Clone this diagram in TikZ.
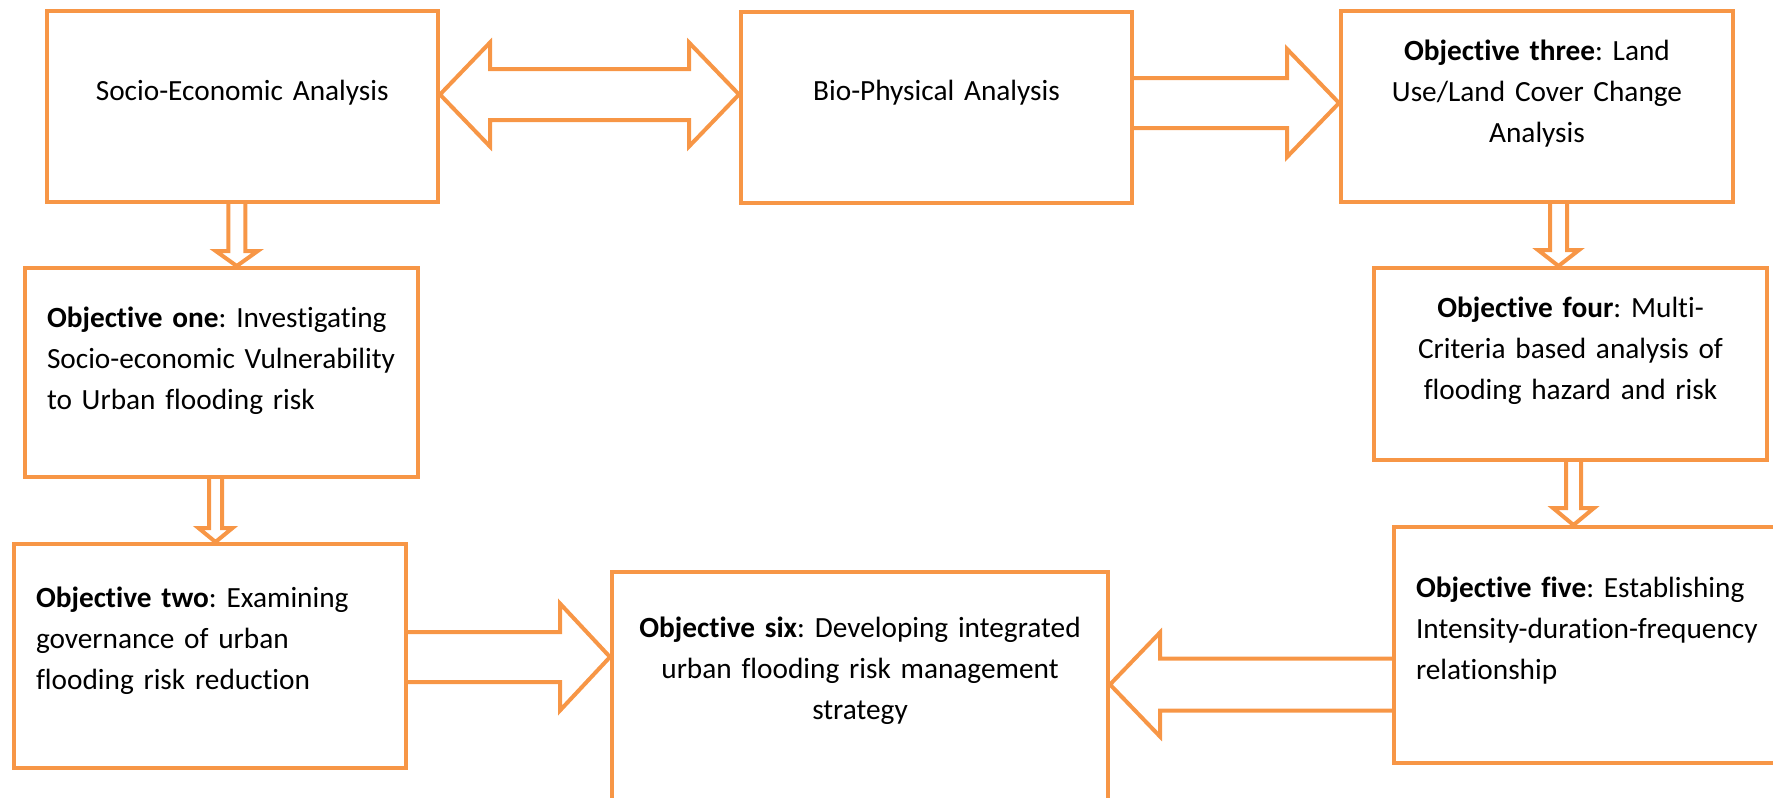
\documentclass[tikz,border=0pt]{standalone}
\usepackage{fontspec}
\setmainfont{Carlito}[Ligatures=NoCommon]
\usetikzlibrary{calc}

\definecolor{boxorange}{HTML}{F79646}
\frenchspacing

% hollow block arrow: start, tip, shaft half width, head half width, head length
\newcommand{\blockarrow}[5]{%
	\coordinate (headbase) at ($(#2)!#5!(#1)$);
	\draw[arrowline] ($(#1)!#3!90:(#2)$) -- ($(headbase)!#3!90:(#2)$) -- ($(headbase)!#4!90:(#2)$) -- (#2)
		-- ($(headbase)!#4!-90:(#2)$) -- ($(headbase)!#3!-90:(#2)$) -- ($(#1)!#3!-90:(#2)$);
}

% hollow block arrow with a head at both ends
\newcommand{\doubleblockarrow}[5]{%
	\coordinate (headbaseA) at ($(#1)!#5!(#2)$);
	\coordinate (headbaseB) at ($(#2)!#5!(#1)$);
	\draw[arrowline] (#1) -- ($(headbaseA)!#4!90:(#2)$) -- ($(headbaseA)!#3!90:(#2)$) -- ($(headbaseB)!#3!90:(#2)$)
		-- ($(headbaseB)!#4!90:(#2)$) -- (#2) -- ($(headbaseB)!#4!-90:(#2)$) -- ($(headbaseB)!#3!-90:(#2)$)
		-- ($(headbaseA)!#3!-90:(#2)$) -- ($(headbaseA)!#4!-90:(#2)$) -- cycle;
}

\begin{document}
\begin{tikzpicture}[x=1pt,y=-1pt,
	box/.style={draw=boxorange, line width=4pt, anchor=north west, inner xsep=22pt, inner ysep=0pt,
		font={\fontsize{29.3}{41}\selectfont\frenchspacing}},
	arrowline/.style={draw=boxorange, line width=4pt, line join=miter}]
	
	\useasboundingbox (0,0) rectangle (1773,798);
	\clip (0,0) rectangle (1773,798);
	
	% Draw the top row
	\node[box, align=center, text width=347.5pt, text height=89pt, text depth=102pt] (se) at (44.5,9) {Socio-Economic Analysis};
	\node[box, align=center, text width=347pt, text height=88pt, text depth=103pt] (bp) at (739,10) {Bio-Physical Analysis};
	\node[box, align=center, text width=348pt, text height=49pt, text depth=142pt] (o3) at (1339,9) {\textbf{Objective three}: Land\\Use/Land Cover Change\\Analysis};
	
	% Draw the middle row
	\node[box, align=left, text width=349pt, text height=59pt, text depth=150pt] (o1) at (23,266) {\textbf{Objective one}: Investigating\\Socio-economic Vulnerability\\to Urban flooding risk};
	\node[box, align=center, text width=349pt, text height=49pt, text depth=142.5pt] (o4) at (1372,266) {\textbf{Objective four}: Multi-\\Criteria based analysis of\\flooding hazard and risk};
	
	% Draw the bottom row
	\node[box, align=left, text width=348pt, text height=63pt, text depth=161pt] (o2) at (12,542) {\textbf{Objective two}: Examining\\governance of urban\\flooding risk reduction};
	\node[box, align=center, text width=452pt, text height=65.5pt, text depth=174.5pt] (o6) at (610,569.5) {\textbf{Objective six}: Developing integrated\\urban flooding risk management\\strategy};
	\node[box, align=left, text width=349pt, text height=70pt, text depth=166pt] (o5) at (1392,525) {\textbf{Objective five}: Establishing\\Intensity-duration-frequency\\relationship};
	
	% Draw the arrows
	\coordinate (seR) at ($(se.east)+(0,-12)$);
	\coordinate (bpL) at (bp.west |- seR);
	\doubleblockarrow{seR}{bpL}{25.5pt}{52pt}{50pt}
	
	\coordinate (bpR) at ($(bp.east)+(0,-4.5)$);
	\coordinate (o3L) at (o3.west |- bpR);
	\blockarrow{bpR}{o3L}{25pt}{54pt}{52pt}
	
	\coordinate (seB) at ($(se.south)+(-5.5,0)$);
	\coordinate (o1T) at (o1.north -| seB);
	\blockarrow{seB}{o1T}{8.5pt}{21pt}{15pt}
	
	\coordinate (o1B) at ($(o1.south)+(-6,0)$);
	\coordinate (o2T) at (o2.north -| o1B);
	\blockarrow{o1B}{o2T}{6.5pt}{17pt}{14pt}
	
	\coordinate (o3B) at ($(o3.south)+(21.5,0)$);
	\coordinate (o4T) at (o4.north -| o3B);
	\blockarrow{o3B}{o4T}{8.5pt}{20.5pt}{16pt}
	
	\coordinate (o4B) at ($(o4.south)+(3,0)$);
	\coordinate (o5T) at (o5.north -| o4B);
	\blockarrow{o4B}{o5T}{7.5pt}{20.5pt}{17pt}
	
	\coordinate (o5L) at ($(o5.west)+(0,39.5)$);
	\coordinate (o6R) at (o6.east |- o5L);
	\blockarrow{o5L}{o6R}{26pt}{52pt}{50pt}
	
	\coordinate (o2R) at ($(o2.east)+(0,1)$);
	\coordinate (o6L) at (o6.west |- o2R);
	\blockarrow{o2R}{o6L}{25pt}{53.5pt}{50pt}
	
\end{tikzpicture}
\end{document}
